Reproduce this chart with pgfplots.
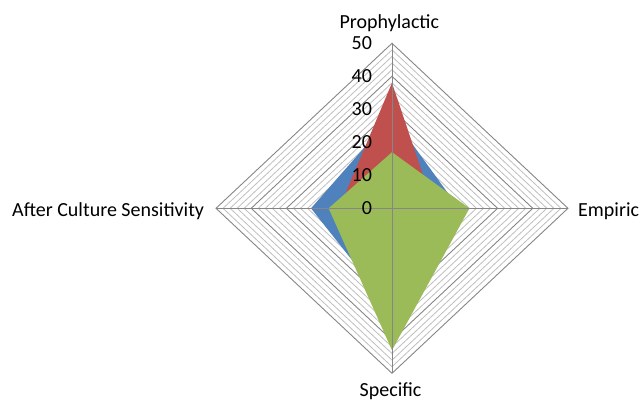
\documentclass[border=0pt]{standalone}
\usepackage{fontspec}
\setmainfont{Carlito}
\usepackage{pgfplots}
\pgfplotsset{compat=1.18}

\definecolor{serA}{HTML}{4F81BD}
\definecolor{serB}{HTML}{C0504D}
\definecolor{serC}{HTML}{9BBB59}
\definecolor{gridmajor}{HTML}{868686}
\definecolor{gridminor}{HTML}{BFBFBF}

\tikzset{lbl/.style={font=\fontsize{20bp}{24bp}\selectfont, inner sep=0pt, outer sep=0pt}}

\begin{document}
\begin{tikzpicture}
\useasboundingbox (-392bp,-193.7bp) rectangle (250bp,208.3bp);
\begin{axis}[
  at={(0,0)}, anchor=origin,
  x=3.52bp, y=3.3bp,
  xmin=-50, xmax=50, ymin=-50, ymax=50,
  hide axis, clip=false,
]
% minor rings every 2 units
\pgfplotsinvokeforeach{2,4,6,8,12,14,16,18,22,24,26,28,32,34,36,38,42,44,46,48}{
  \draw[gridminor, line width=0.8bp] (axis cs:0,#1) -- (axis cs:#1,0) -- (axis cs:0,-#1) -- (axis cs:-#1,0) -- cycle;
}
% major rings every 10 units
\pgfplotsinvokeforeach{10,20,30,40,50}{
  \draw[gridmajor, line width=0.9bp] (axis cs:0,#1) -- (axis cs:#1,0) -- (axis cs:0,-#1) -- (axis cs:-#1,0) -- cycle;
}

% series: (0,Prophylactic) (Empiric,0) (0,-Specific) (-After Culture Sensitivity,0)
\addplot[fill=serA, draw=none, no marks] coordinates {(0,28) (19,0) (0,-31) (-23,0) (0,28)};
\addplot[fill=serB, draw=none, no marks] coordinates {(0,38) (12,0) (0,-8) (-15,0) (0,38)};
\addplot[fill=serC, draw=none, no marks] coordinates {(0,17) (22,0) (0,-43) (-18,0) (0,17)};

% spokes
\draw[gridmajor, line width=0.9bp] (axis cs:0,50) -- (axis cs:0,-50);
\draw[gridmajor, line width=0.9bp] (axis cs:-50,0) -- (axis cs:50,0);

% radial scale
\pgfplotsinvokeforeach{0,10,20,30,40,50}{
  \node[lbl, anchor=east] at (axis cs:-5.68,#1) {#1};
}

% category labels
\node[lbl, anchor=base] at (axis cs:-0.75,54.55) {Prophylactic};
\node[lbl, anchor=base west] at (axis cs:52.9,-2.5) {Empiric};
\node[lbl, anchor=base] at (axis cs:-0.4,-57.0) {Specific};
\node[lbl, anchor=base east] at (axis cs:-53.4,-2.5) {After Culture Sensitivity};
\end{axis}
\end{tikzpicture}
\end{document}
